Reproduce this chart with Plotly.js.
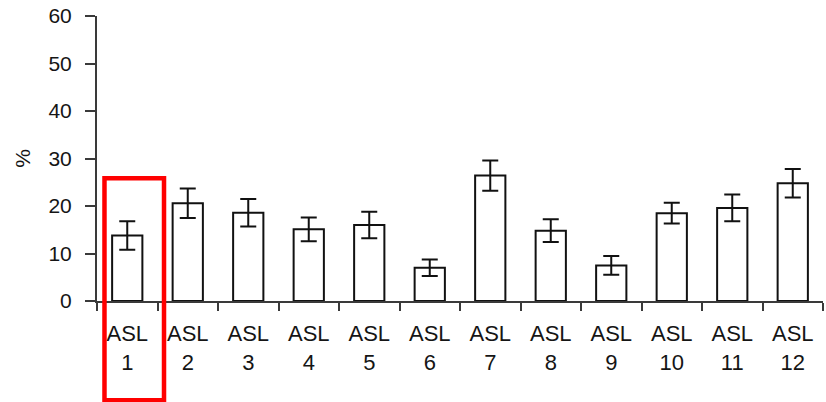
<!DOCTYPE html>
<html>
<head>
<meta charset="utf-8">
<script src="https://cdn.plot.ly/plotly-3.0.1.min.js"></script>
<style>
  html, body { margin: 0; padding: 0; background: #fff; }
  #chart { width: 826px; height: 402px; }
</style>
</head>
<body>
<div id="chart"></div>
<script>
const categories = ["ASL<br>1", "ASL<br>2", "ASL<br>3", "ASL<br>4", "ASL<br>5", "ASL<br>6",
                    "ASL<br>7", "ASL<br>8", "ASL<br>9", "ASL<br>10", "ASL<br>11", "ASL<br>12"];
const values = [13.8, 20.6, 18.6, 15.1, 16.0, 7.0, 26.4, 14.8, 7.5, 18.5, 19.6, 24.8];
const errors = [3.0, 3.1, 2.9, 2.5, 2.8, 1.75, 3.2, 2.4, 1.95, 2.2, 2.8, 3.0];
const yTicks = [0, 10, 20, 30, 40, 50, 60];

const fontFam = "Liberation Sans, Arial, sans-serif";
const axisCol = "#3a3a3a";
const textCol = "#151515";

const trace = {
  type: "bar",
  x: categories,
  y: values,
  width: 0.5,
  marker: { color: "#ffffff", line: { color: "#111111", width: 2 } },
  error_y: { type: "data", array: errors, visible: true, color: "#111111", thickness: 2, width: 8 },
  hoverinfo: "none"
};

const layout = {
  width: 826,
  height: 402,
  margin: { l: 97, r: 3, t: 16, b: 101 },
  paper_bgcolor: "#ffffff",
  plot_bgcolor: "#ffffff",
  showlegend: false,
  font: { family: fontFam, color: textCol },
  xaxis: {
    type: "category",
    tickson: "boundaries",
    ticks: "outside",
    ticklen: 8,
    tickwidth: 2,
    tickcolor: axisCol,
    showline: true,
    linecolor: axisCol,
    linewidth: 2,
    showgrid: false,
    zeroline: false,
    tickfont: { size: 22, family: fontFam, color: textCol },
    ticklabelstandoff: 12,
    fixedrange: true
  },
  yaxis: {
    range: [0, 60],
    tickvals: yTicks,
    ticktext: yTicks.map(String),
    ticks: "outside",
    ticklen: 10,
    tickwidth: 2,
    tickcolor: axisCol,
    showline: true,
    linecolor: axisCol,
    linewidth: 2,
    showgrid: false,
    zeroline: false,
    tickfont: { size: 21, family: fontFam, color: textCol },
    ticklabelstandoff: 9,
    title: { text: "%", font: { size: 21, family: fontFam, color: textCol }, standoff: 12 },
    fixedrange: true
  },
  shapes: [{
    type: "rect",
    xref: "paper", yref: "paper",
    x0: 0.0103, x1: 0.0923,
    y0: -0.348, y1: 0.431,
    line: { color: "#ff0000", width: 4.5 },
    fillcolor: "rgba(0,0,0,0)",
    layer: "above"
  }]
};

Plotly.newPlot("chart", [trace], layout, { displayModeBar: false, staticPlot: true });
</script>
</body>
</html>
